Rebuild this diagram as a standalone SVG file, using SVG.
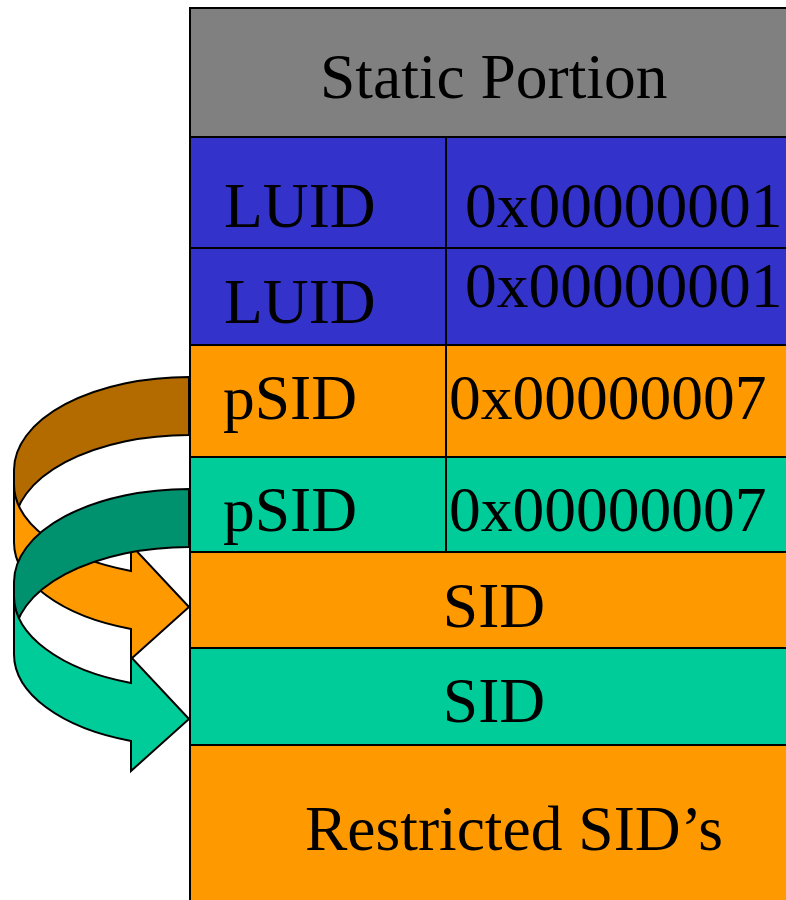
<svg xmlns="http://www.w3.org/2000/svg" width="786" height="900" viewBox="0 0 786 900">
  <style>
    .cell { stroke: #000; stroke-width: 2; }
    .gray { fill: #808080; }
    .blue { fill: #3333CC; }
    .orange { fill: #FF9900; }
    .teal { fill: #00CC99; }
    .lbl { font-family: "Liberation Serif", "Times New Roman", serif; font-size: 63.5px; fill: #000; }
    .mid { text-anchor: middle; }
    .ribbon { stroke: #000; stroke-width: 2; stroke-linejoin: miter; }
    .back-orange { fill: #B36B00; }
    .front-orange { fill: #FF9900; }
    .back-teal { fill: #00916F; }
    .front-teal { fill: #00CC99; }
  </style>
  <rect x="0" y="0" width="786" height="900" fill="#FFFFFF"/>

  <!-- token layout table -->
  <g id="static-portion">
    <rect class="cell gray" x="190" y="8" width="620" height="129"/>
    <text class="lbl" x="320" y="98">Static Portion</text>
  </g>
  <g id="luid-1">
    <rect class="cell blue" x="190" y="137" width="256" height="111"/>
    <rect class="cell blue" x="446" y="137" width="364" height="111"/>
    <text class="lbl" x="224" y="227">LUID</text>
    <text class="lbl" x="465" y="227">0x00000001</text>
  </g>
  <g id="luid-2">
    <rect class="cell blue" x="190" y="248" width="256" height="97"/>
    <rect class="cell blue" x="446" y="248" width="364" height="97"/>
    <text class="lbl" x="224" y="323">LUID</text>
    <text class="lbl" x="465" y="307">0x00000001</text>
  </g>
  <g id="psid-1">
    <rect class="cell orange" x="190" y="345" width="256" height="112"/>
    <rect class="cell orange" x="446" y="345" width="364" height="112"/>
    <text class="lbl" x="223" y="419">pSID</text>
    <text class="lbl" x="449" y="419">0x00000007</text>
  </g>
  <g id="psid-2">
    <rect class="cell teal" x="190" y="457" width="256" height="95"/>
    <rect class="cell teal" x="446" y="457" width="364" height="95"/>
    <text class="lbl" x="223" y="531">pSID</text>
    <text class="lbl" x="449" y="531">0x00000007</text>
  </g>
  <g id="sid-1">
    <rect class="cell orange" x="190" y="552" width="620" height="96"/>
    <text class="lbl mid" x="494" y="627">SID</text>
  </g>
  <g id="sid-2">
    <rect class="cell teal" x="190" y="648" width="620" height="97"/>
    <text class="lbl mid" x="494" y="722">SID</text>
  </g>
  <g id="restricted-sids">
    <rect class="cell orange" x="190" y="745" width="620" height="170"/>
    <text class="lbl" x="305" y="850">Restricted SID’s</text>
  </g>

  <!-- curved ribbon arrows from each pSID to its SID -->
  <g id="connectors">
    <g id="arrow-psid1-sid1">
      <path class="ribbon back-orange" d="M189,377 A175,93 0 0 0 14,470 L14,528 A175,93 0 0 1 189,435 Z"/>
      <path class="ribbon front-orange" d="M14,484 A175,92 0 0 0 131,571 L131,545 L189,607 L131,659 L131,629 A175,92 0 0 1 14,542 Z"/>
    </g>
    <g id="arrow-psid2-sid2" transform="translate(0,112)">
      <path class="ribbon back-teal" d="M189,377 A175,93 0 0 0 14,470 L14,528 A175,93 0 0 1 189,435 Z"/>
      <path class="ribbon front-teal" d="M14,484 A175,92 0 0 0 131,571 L131,545 L189,607 L131,659 L131,629 A175,92 0 0 1 14,542 Z"/>
    </g>
  </g>
</svg>
